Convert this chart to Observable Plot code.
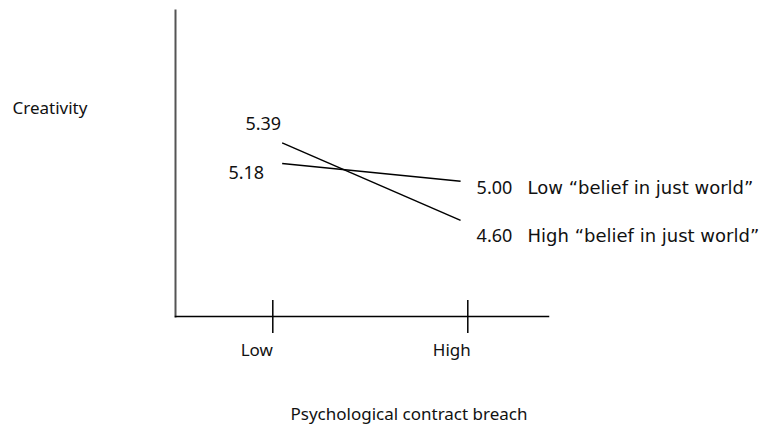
<!DOCTYPE html>
<html>
<head>
<meta charset="utf-8">
<script src="https://cdn.jsdelivr.net/npm/d3@7"></script>
<script src="https://cdn.jsdelivr.net/npm/@observablehq/plot@0.6"></script>
<style>
  html, body { margin: 0; padding: 0; background: #fff; }
  svg { display: block; }
</style>
</head>
<body>
<div id="chart"></div>
<script>
// ---- data ----
const xCategories = ["Low", "High"];
const seriesNames = ["Low “belief in just world”", "High “belief in just world”"];
const creativityAtLowBreach = [5.18, 5.39];
const creativityAtHighBreach = [5.00, 4.60];
const xAxisTitle = "Psychological contract breach";
const yAxisTitle = "Creativity";

// table built from the arrays
const rows = seriesNames.map((name, i) => ({
  name, i, v0: creativityAtLowBreach[i], v1: creativityAtHighBreach[i]
}));

// ---- style ----
const FONT = 17;
const VALUE_FONT = 18;
const lineInsetLeft = 0.048, lineInsetRight = 0.037;
const leftLabelOffset = [{dx: -18, dy: 15}, {dx: -1, dy: -13}];
const rightLabelOffset = [{dy: 12.5}, {dy: 21.6}];

const chart = Plot.plot({
  width: 759,
  height: 426,
  marginLeft: 175,
  marginRight: 211,
  marginTop: 10,
  marginBottom: 110,
  style: {fontFamily: "'Noto Sans', sans-serif", fontSize: FONT + "px", color: "#111", background: "#fff"},
  x: {type: "linear", domain: [0, 1], range: [272.3, 467.3], axis: null},
  y: {type: "linear", domain: [3.62, 6.74], axis: null},
  marks: [
    Plot.frame({anchor: "left", stroke: "#555", strokeWidth: 2}),
    Plot.frame({anchor: "bottom", stroke: "#000", strokeWidth: 1.5}),
    Plot.tickX(xCategories.map((d, i) => i), {x: d => d, insetTop: 290, insetBottom: -17, stroke: "#000", strokeWidth: 1.5}),
    Plot.text(xCategories, {x: (d, i) => i, text: d => d, frameAnchor: "bottom", dx: -16, dy: 39, lineAnchor: "bottom", fontSize: FONT, fill: "#111"}),
    Plot.link(rows, {x1: () => 0 + lineInsetLeft, x2: () => 1 - lineInsetRight, y1: "v0", y2: "v1", stroke: "#000", strokeWidth: 1.5}),
    // left value labels
    ...rows.map(r => Plot.text([r], {
      x: () => 0 + lineInsetLeft, y: "v0", text: d => d.v0.toFixed(2),
      textAnchor: "end", lineAnchor: "bottom", dx: leftLabelOffset[r.i].dx, dy: leftLabelOffset[r.i].dy,
      fontSize: VALUE_FONT, fill: "#111"
    })),
    // right value labels + series names
    ...rows.map(r => Plot.text([r], {
      x: () => 1 - lineInsetRight, y: "v1", text: d => d.v1.toFixed(2),
      textAnchor: "start", lineAnchor: "bottom", dx: 16, dy: rightLabelOffset[r.i].dy,
      fontSize: VALUE_FONT, fill: "#111"
    })),
    ...rows.map(r => Plot.text([r], {
      x: () => 1 - lineInsetRight, y: "v1", text: d => d.name,
      textAnchor: "start", lineAnchor: "bottom", dx: 67, dy: rightLabelOffset[r.i].dy,
      fontSize: VALUE_FONT, fontFamily: "'DejaVu Sans', sans-serif", fill: "#111"
    })),
    Plot.text([yAxisTitle], {text: d => d, frameAnchor: "top-left", textAnchor: "start", lineAnchor: "bottom", dx: -163, dy: 103, fontSize: FONT, fill: "#111"}),
    Plot.text([xAxisTitle], {text: d => d, frameAnchor: "bottom-left", textAnchor: "start", lineAnchor: "bottom", dx: 115, dy: 103, fontSize: FONT, fill: "#111"})
  ]
});
document.getElementById("chart").append(chart);
</script>
</body>
</html>
